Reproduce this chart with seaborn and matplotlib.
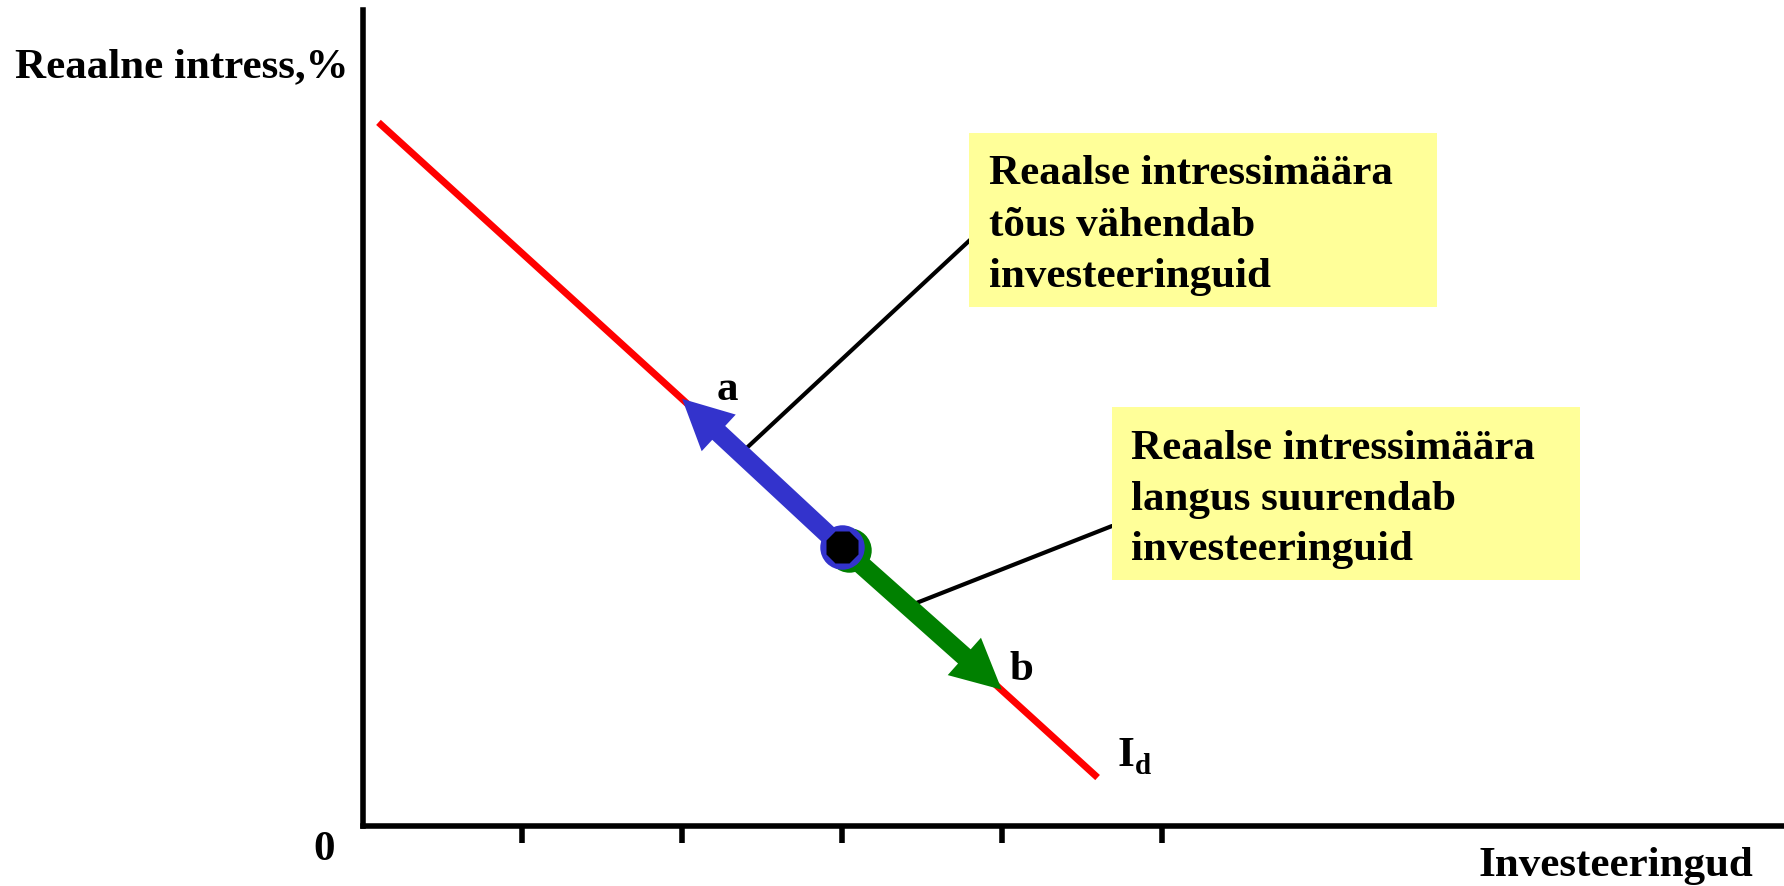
import matplotlib
matplotlib.use("Agg")
import matplotlib.pyplot as plt
import matplotlib.transforms as mtransforms
from matplotlib.patches import Rectangle
import seaborn as sns
import pandas as pd

# Investment demand schedule I_d: investment against the real interest rate
demand_invest = [0.1, 4.6]
demand_rate = [4.4, 0.3]

# Starting point on the schedule and the two moves along it
eq_invest, eq_rate = 3.0, 1.74
move_labels = ["a", "b"]
move_invest = [2.0, 4.0]
move_rate = [2.67, 0.85]
move_colors = ["#3333CC", "#008000"]

x_ticks = [1, 2, 3, 4, 5]

y_label = "Reaalne intress,%"
x_label = "Investeeringud"
origin_label = "0"
curve_main, curve_sub = "I", "d"

notes = [
    ["Reaalse intressimäära", "tõus vähendab", "investeeringuid"],
    ["Reaalse intressimäära", "langus suurendab", "investeeringuid"],
]
# where each note's leader line touches its arrow
note_anchor_invest = [2.38, 3.46]
note_anchor_rate = [2.34, 1.39]

sns.set_theme(style="white")
plt.rcParams["font.family"] = ["Liberation Serif", "DejaVu Serif"]
plt.rcParams["font.weight"] = "bold"
plt.rcParams["text.color"] = "black"

W, H = 1784, 886
DPI = 100
UNIT = 159.8  # pixels per data unit on both axes


def fx(px):
    return px / W


def fy(py):
    return 1 - py / H


fig = plt.figure(figsize=(W / DPI, H / DPI), dpi=DPI)
fig.patch.set_facecolor("white")

ox, oy, top = 362.5, 825.5, 10
ax = fig.add_axes([fx(ox), fy(oy), (W - ox) / W, (oy - top) / H])
ax.set_xlim(0, (W - ox) / UNIT)
ax.set_ylim(0, (oy - top) / UNIT)
ax.set_facecolor("white")

FS = 31

# demand curve
df = pd.DataFrame({"invest": demand_invest, "rate": demand_rate})
sns.lineplot(data=df, x="invest", y="rate", color="#FF0000", lw=5,
             ax=ax, zorder=2, solid_capstyle="butt")
ax.set_xlabel("")
ax.set_ylabel("")

# axes frame
sns.despine(ax=ax)
for side in ("left", "bottom"):
    ax.spines[side].set_linewidth(4)
    ax.spines[side].set_color("black")
    ax.spines[side].set_capstyle("projecting")
ax.set_xticks(x_ticks)
ax.set_yticks([])
ax.tick_params(axis="x", direction="out", length=12.5, width=4,
               color="black", labelbottom=False, bottom=True)

# leader lines from the arrows to the notes
note_ends = [(970, 240), (1112, 526)]
for xa, ya, (ex, ey) in zip(note_anchor_invest, note_anchor_rate, note_ends):
    ax.annotate("", xy=(xa, ya), xycoords="data",
                xytext=(fx(ex), fy(ey)), textcoords="figure fraction",
                arrowprops=dict(arrowstyle="-", color="black", lw=3,
                                shrinkA=0, shrinkB=0),
                zorder=3, annotation_clip=False)

# movement arrows
for tx, ty, col in zip(move_invest, move_rate, move_colors):
    ax.annotate("", xy=(tx, ty), xytext=(eq_invest, eq_rate),
                arrowprops=dict(arrowstyle="simple,head_length=1.0,head_width=1.0,tail_width=0.38",
                                mutation_scale=36, color=col, lw=0,
                                shrinkA=0, shrinkB=0),
                zorder=4)

# starting point marker
green_shift = mtransforms.offset_copy(ax.transData, fig=fig, x=5, y=-1.5, units="points")
ax.plot([eq_invest], [eq_rate], marker="o", ms=32, color=move_colors[1],
        mec="none", transform=green_shift, zorder=5)
ax.plot([eq_invest], [eq_rate], marker="o", ms=32, color=move_colors[0],
        mec="none", zorder=6)
ax.plot([eq_invest], [eq_rate], marker="8", ms=25, color="black",
        mec="none", zorder=7)

# arrow labels
label_offsets = [(25.2, -0.7), (5.8, 7.2)]
for lab, tx, ty, off in zip(move_labels, move_invest, move_rate, label_offsets):
    ax.annotate(lab, xy=(tx, ty), xytext=off, textcoords="offset points",
                ha="left", va="baseline", fontsize=FS, fontweight="bold",
                color="black", zorder=8)

# curve label I_d
ax.annotate(curve_main, xy=(demand_invest[-1], demand_rate[-1]), xytext=(14.4, 8.6),
            textcoords="offset points", ha="left", va="baseline",
            fontsize=FS, fontweight="bold", color="black", annotation_clip=False)
ax.annotate(curve_sub, xy=(demand_invest[-1], demand_rate[-1]), xytext=(27, 2.9),
            textcoords="offset points", ha="left", va="baseline",
            fontsize=21, fontweight="bold", color="black", annotation_clip=False)

# axis captions
fig.text(fx(15), fy(77), y_label, ha="left", va="baseline", fontsize=FS,
         fontweight="bold", color="black")
fig.text(fx(1479), fy(876), x_label, ha="left", va="baseline", fontsize=FS,
         fontweight="bold", color="black")
fig.text(fx(324.5), fy(860), origin_label, ha="center", va="baseline", fontsize=FS,
         fontweight="bold", color="black")

# note boxes
boxes = [((969, 133), (1437, 307)), ((1112, 407), (1580, 580))]
text_lefts = [989, 1131]
baselines = [[184, 236, 287], [459, 510, 560]]
for (p0, p1), lines, tl, bl in zip(boxes, notes, text_lefts, baselines):
    rect = Rectangle((fx(p0[0]), fy(p1[1])), (p1[0] - p0[0]) / W, (p1[1] - p0[1]) / H,
                     transform=fig.transFigure, facecolor="#FFFF99",
                     edgecolor="none", zorder=1)
    fig.add_artist(rect)
    for line, b in zip(lines, bl):
        fig.text(fx(tl), fy(b), line, ha="left", va="baseline", fontsize=FS,
                 fontweight="bold", color="black", zorder=2)

fig.savefig("out.png", dpi=DPI, facecolor="white")
